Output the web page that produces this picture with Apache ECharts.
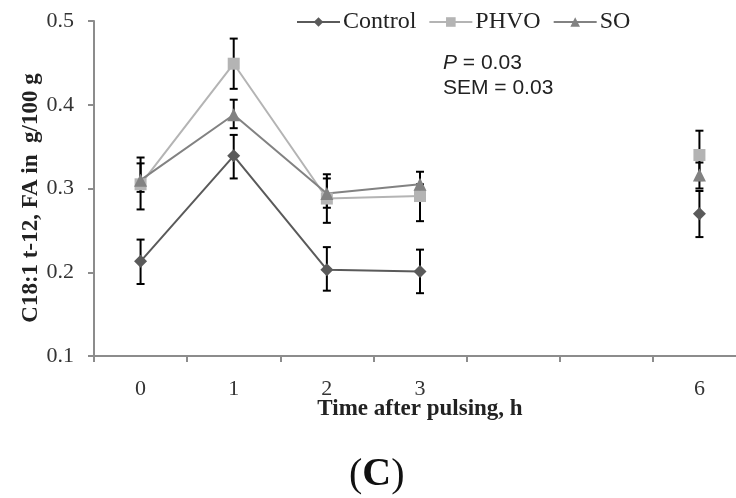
<!DOCTYPE html>
<html>
<head>
<meta charset="utf-8">
<script src="https://cdn.jsdelivr.net/npm/echarts@6/dist/echarts.min.js"></script>
<style>html,body{margin:0;padding:0;background:#fff;}#c{width:736px;height:498px;}</style>
</head>
<body>
<div id="c"></div>
<script>
const categories = ['0', '1', '2', '3', '', '', '6'];
const control     = [0.213, 0.339, 0.203, 0.201, null, null, 0.270];
const controlLow  = [0.186, 0.312, 0.178, 0.175, null, null, 0.242];
const controlHigh = [0.239, 0.364, 0.230, 0.227, null, null, 0.297];
const phvo        = [0.305, 0.449, 0.288, 0.291, null, null, 0.340];
const phvoLow     = [0.275, 0.419, 0.259, 0.261, null, null, 0.310];
const phvoHigh    = [0.337, 0.479, 0.317, 0.305, null, null, 0.369];
const so          = [0.310, 0.388, 0.294, 0.305, null, null, 0.316];
const soLow       = [0.296, 0.372, 0.277, 0.290, null, null, 0.300];
const soHigh      = [0.330, 0.406, 0.312, 0.320, null, null, 0.331];
const yTicks = [0.1, 0.2, 0.3, 0.4, 0.5];

const serif = '"Liberation Serif", "DejaVu Serif", serif';
const sans = '"Liberation Sans", Arial, sans-serif';

function errData(lo, hi) {
  const out = [];
  for (let i = 0; i < lo.length; i++) {
    if (lo[i] != null && hi[i] != null) out.push([i, lo[i], hi[i]]);
  }
  return out;
}
function errSeries(lo, hi) {
  return {
    type: 'custom',
    data: errData(lo, hi),
    encode: { x: 0, y: [1, 2] },
    z: 1,
    silent: true,
    renderItem: function (params, api) {
      const x = api.value(0);
      const a = api.coord([x, api.value(1)]);
      const b = api.coord([x, api.value(2)]);
      const w = 4;
      const st = { stroke: '#000', lineWidth: 2 };
      return {
        type: 'group',
        children: [
          { type: 'line', shape: { x1: a[0], y1: a[1], x2: b[0], y2: b[1] }, style: st },
          { type: 'line', shape: { x1: a[0] - w, y1: a[1], x2: a[0] + w, y2: a[1] }, style: st },
          { type: 'line', shape: { x1: b[0] - w, y1: b[1], x2: b[0] + w, y2: b[1] }, style: st }
        ]
      };
    }
  };
}
function lineSeries(name, data, color, symbol, size) {
  return {
    name: name, type: 'line', data: data, z: 3,
    symbol: symbol, symbolSize: size,
    connectNulls: false,
    itemStyle: { color: color },
    lineStyle: { color: color, width: 2 }
  };
}

const chart = echarts.init(document.getElementById('c'));
chart.setOption({
  animation: false,
  backgroundColor: '#fff',
  grid: { left: 94, top: 21, width: 652, height: 335, outerBoundsMode: 'none', containLabel: false },
  legend: {
    data: ['Control', 'PHVO', 'SO'],
    left: 291, top: 5,
    itemWidth: 43, itemHeight: 12, itemGap: 12,
    textStyle: { fontFamily: serif, fontSize: 24, color: '#222', padding: [0, 0, 0, -2] }
  },
  xAxis: {
    type: 'category',
    data: categories,
    boundaryGap: true,
    axisLine: { lineStyle: { color: '#8c8c8c', width: 2 } },
    axisTick: { show: true, length: 6, lineStyle: { color: '#8c8c8c', width: 2 } },
    axisLabel: { fontFamily: serif, fontSize: 22, color: '#333', margin: 22 },
    name: 'Time after pulsing, h',
    nameLocation: 'middle',
    nameGap: 42,
    nameMoveOverlap: false,
    nameTextStyle: { fontFamily: serif, fontSize: 23, fontWeight: 'bold', color: '#222' }
  },
  yAxis: {
    type: 'value',
    min: yTicks[0], max: yTicks[yTicks.length - 1], interval: 0.1,
    splitLine: { show: false },
    axisLine: { show: true, lineStyle: { color: '#8c8c8c', width: 2 } },
    axisTick: { show: true, length: 6, lineStyle: { color: '#8c8c8c', width: 2 } },
    axisLabel: { fontFamily: serif, fontSize: 22, color: '#333', margin: 20,
      formatter: function (v) { return v.toFixed(1); } }
  },
  graphic: [
    {
      type: 'text', x: 31, y: 198, rotation: Math.PI / 2,
      style: {
        text: 'C18:1 t-12, FA in  g/100 g',
        font: 'bold 23px ' + serif, fill: '#222',
        align: 'center', verticalAlign: 'middle'
      }
    },
    {
      type: 'text', left: 443, top: 51,
      style: {
        text: '{i|P} = 0.03\nSEM = 0.03',
        font: '21px ' + sans, fill: '#222', lineHeight: 25,
        rich: { i: { fontStyle: 'italic', fontFamily: sans, fontSize: 21, fill: '#222' } }
      }
    },
    {
      type: 'text', left: 349, top: 455,
      style: {
        text: '({b|C})',
        font: '40px ' + serif, fill: '#111',
        rich: { b: { fontWeight: 'bold', fontFamily: serif, fontSize: 40, fill: '#111' } }
      }
    }
  ],
  series: [
    errSeries(controlLow, controlHigh),
    errSeries(phvoLow, phvoHigh),
    errSeries(soLow, soHigh),
    lineSeries('Control', control, '#5a5a5a', 'diamond', 13),
    lineSeries('PHVO', phvo, '#b4b4b4', 'rect', 12),
    lineSeries('SO', so, '#828282', 'triangle', 13)
  ]
});
</script>
</body>
</html>
